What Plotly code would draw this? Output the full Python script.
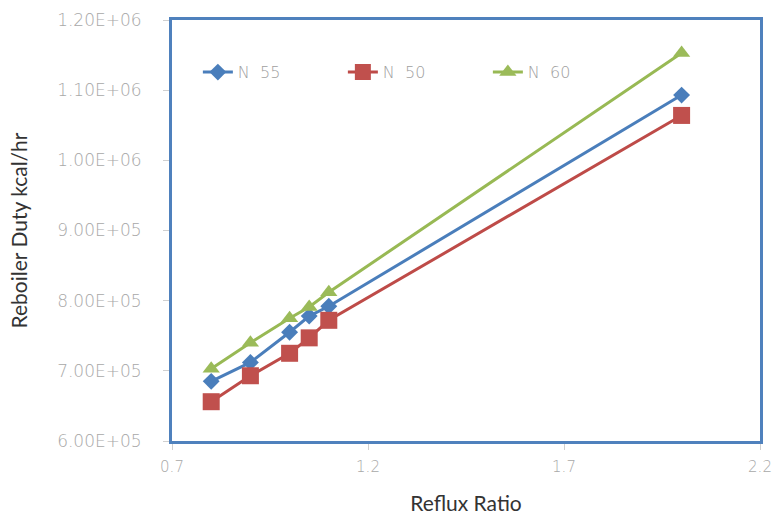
import plotly.graph_objects as go

reflux = [0.8, 0.9, 1.0, 1.05, 1.1, 2.0]
n55 = [6.85e5, 7.12e5, 7.55e5, 7.78e5, 7.92e5, 1.093e6]
n50 = [6.56e5, 6.93e5, 7.25e5, 7.47e5, 7.72e5, 1.064e6]
n60 = [7.03e5, 7.40e5, 7.75e5, 7.91e5, 8.12e5, 1.153e6]
names = ["N  55", "N  50", "N  60"]
ytickvals = [6e5, 7e5, 8e5, 9e5, 1e6, 1.1e6, 1.2e6]
yticktext = ["6.00E+05", "7.00E+05", "8.00E+05", "9.00E+05", "1.00E+06", "1.10E+06", "1.20E+06"]
xtickvals = [0.7, 1.2, 1.7, 2.2]
xticktext = ["0.7", "1.2", "1.7", "2.2"]

ytickfont = dict(family="DejaVu Sans", size=17, color="#a8a8a8", weight=300)
xtickfont = dict(family="DejaVu Sans", size=15, color="#a8a8a8", weight=300)
titlefont = dict(family="Lato", size=21, color="#333333")

fig = go.Figure()
fig.add_trace(go.Scatter(x=reflux, y=n55, name=names[0], mode="lines+markers",
                         line=dict(color="#4A7EBB", width=3),
                         marker=dict(symbol="diamond", size=13, color="#4A7EBB")))
fig.add_trace(go.Scatter(x=reflux, y=n50, name=names[1], mode="lines+markers",
                         line=dict(color="#BE4B48", width=3),
                         marker=dict(symbol="square", size=17, color="#C0504D")))
fig.add_trace(go.Scatter(x=reflux, y=n60, name=names[2], mode="lines+markers",
                         line=dict(color="#98B954", width=3),
                         marker=dict(symbol="triangle-up", size=15, color="#9BBB59")))

fig.update_layout(
    width=773, height=523,
    margin=dict(l=172, r=13, t=20, b=82),
    paper_bgcolor="white", plot_bgcolor="white",
    font=dict(family="DejaVu Sans", color="#a8a8a8", size=15),
    showlegend=True,
    legend=dict(orientation="h", x=0.044, y=0.876, xanchor="left", yanchor="middle",
                font=dict(family="DejaVu Sans", size=16, color="#a0a0a0", weight=300),
                bgcolor="rgba(0,0,0,0)",
                entrywidth=100, entrywidthmode="pixels", tracegroupgap=0),
    xaxis=dict(range=[0.7, 2.2], tickvals=xtickvals, ticktext=xticktext, automargin=False,
               showgrid=False, zeroline=False, ticks="outside", ticklen=6, tickcolor="#d0d0d0",
               showline=True, linecolor="#4F81BD", linewidth=3, mirror=True,
               ticklabelstandoff=4, ticklabeloverflow="allow",
               title=dict(text="Reflux Ratio", font=titlefont, standoff=22),
               tickfont=xtickfont),
    yaxis=dict(range=[6e5, 1.2e6], tickvals=ytickvals, ticktext=yticktext, automargin=False,
               showgrid=False, zeroline=False, ticks="outside", ticklen=6, tickcolor="#d0d0d0",
               showline=True, linecolor="#4F81BD", linewidth=3, mirror=True,
               ticklabelstandoff=18, ticklabeloverflow="allow",
               title=dict(text="Reboiler Duty kcal/hr", font=titlefont, standoff=24),
               tickfont=ytickfont),
)
fig.write_html("out.html", config={"displayModeBar": False},
               post_script="document.body.style.margin='0';document.body.style.overflow='hidden';")
